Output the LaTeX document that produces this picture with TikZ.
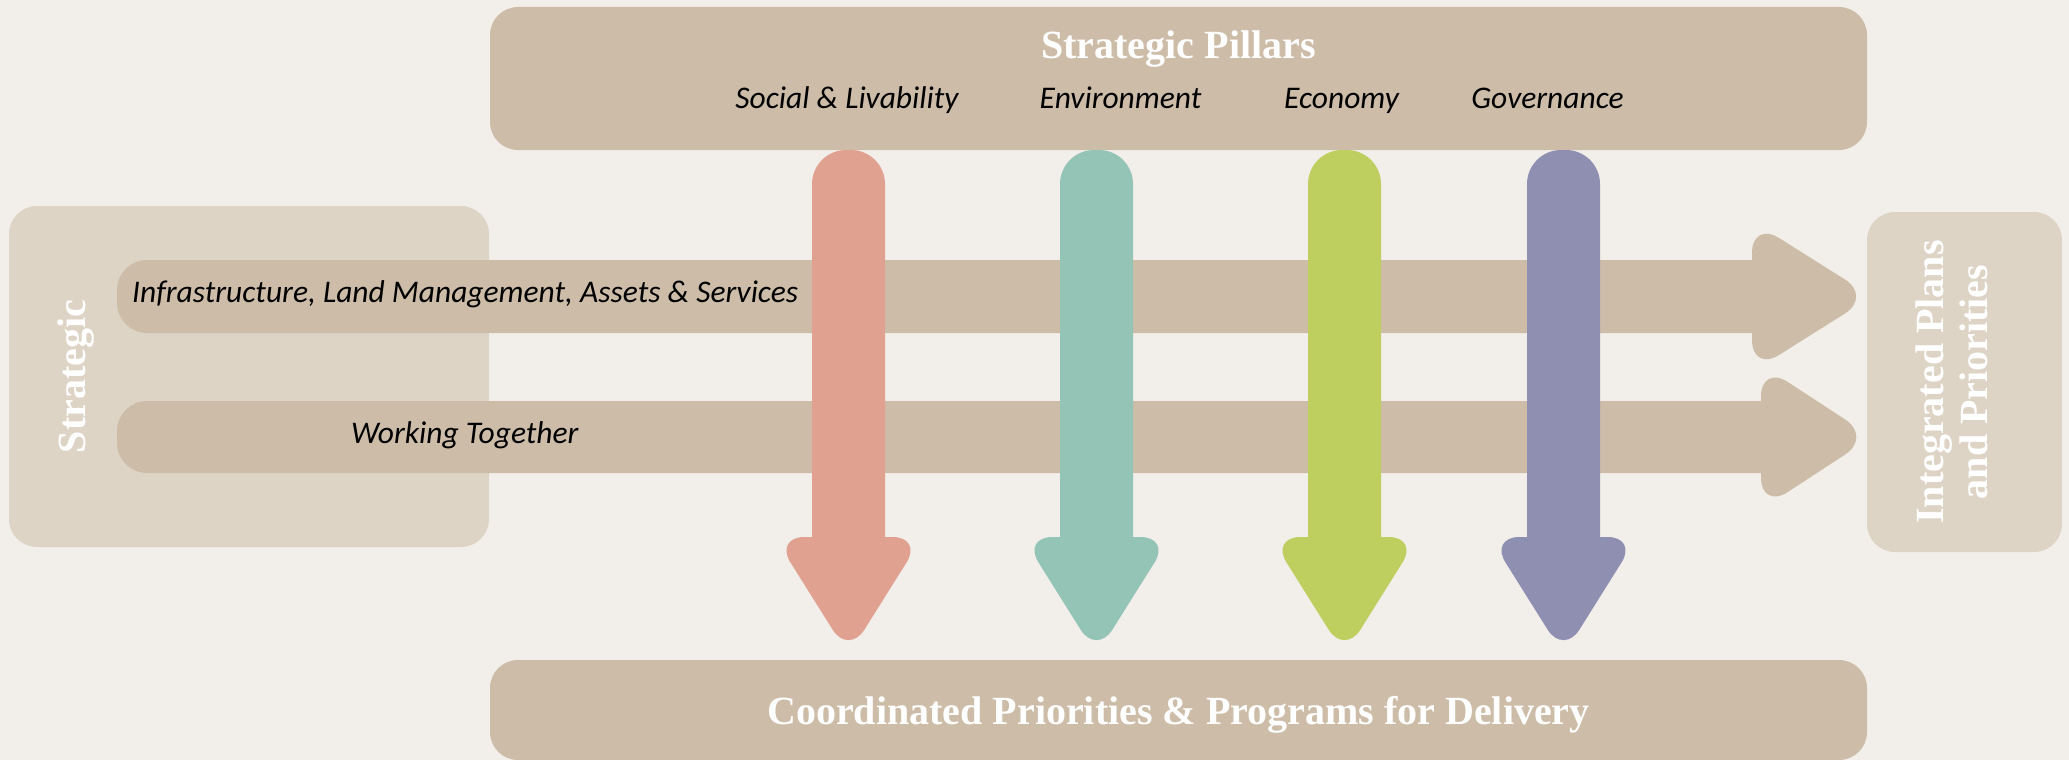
\documentclass[tikz,border=0pt]{standalone}
\usepackage{fontspec}
\setmainfont{Liberation Serif}
\newfontfamily\labelfont{Carlito}
\definecolor{bg}{HTML}{F2EFEA}
\definecolor{tanc}{HTML}{CDBDA8}
\definecolor{pale}{HTML}{DED4C6}
\definecolor{pinkc}{HTML}{E0A190}
\definecolor{tealc}{HTML}{93C4B6}
\definecolor{greenc}{HTML}{BECF60}
\definecolor{purplec}{HTML}{8F8FB2}
\tikzset{
  box/.style={inner sep=0pt, rounded corners=28pt},
  titletext/.style={text=white, font=\fontsize{40}{44}\selectfont\bfseries, inner sep=0pt, anchor=base},
  pillartext/.style={text=black, font=\labelfont\itshape\fontsize{31.5}{36}\selectfont, inner sep=0pt},
}
\newcommand\pillararrow[2]{%
  \fill[#2, rounded corners=34pt] (#1-36.5,560) -- (#1-36.5,150) -- (#1+36.5,150) -- (#1+36.5,560);
  \fill[#2, rounded corners=30pt] (#1-74,537) -- (#1+74,537) -- (#1,655) -- cycle;
}
\begin{document}
\begin{tikzpicture}[x=1pt,y=-1pt]
\useasboundingbox (0,0) rectangle (2069,760);
\fill[bg] (0,0) rectangle (2069,760);
% boxes
\node[box, fill=pale, minimum width=480pt, minimum height=341pt] (stratbox) at (249,376.5) {};
\node[box, fill=pale, minimum width=195pt, minimum height=340pt] (intbox) at (1964.5,382) {};
\node[box, fill=tanc, minimum width=1377pt, minimum height=143pt] (pillarsbox) at (1178.5,78.5) {};
\node[box, fill=tanc, minimum width=1377pt, minimum height=100pt] (delivbox) at (1178.5,710) {};
% horizontal arrows
\fill[tanc, rounded corners=30pt] (1770,260) -- (117,260) -- (117,333) -- (1770,333);
\fill[tanc, rounded corners=32pt] (1752,221) -- (1872,296.5) -- (1752,372) -- cycle;
\fill[tanc, rounded corners=30pt] (1780,401) -- (117,401) -- (117,473) -- (1780,473);
\fill[tanc, rounded corners=32pt] (1761,364.5) -- (1872,437) -- (1761,509.5) -- cycle;
% vertical arrows
\pillararrow{848.5}{pinkc}
\pillararrow{1096.5}{tealc}
\pillararrow{1344.5}{greenc}
\pillararrow{1563.5}{purplec}
% titles
\node[titletext] (pillarstitle) at (1178.5,59) {Strategic Pillars};
\node[titletext] (delivtitle) at (1178.5,724) {Coordinated Priorities \& Programs for Delivery};
\node[titletext, rotate=90] (strattitle) at (85,376.5) {Strategic};
\node[titletext, rotate=90] (inttitle1) at (1943,382) {Integrated Plans};
\node[titletext, rotate=90] (inttitle2) at (1987,382) {and Priorities};
% pillar labels
\node[pillartext, anchor=base] (social) at (847,108) {Social \& Livability};
\node[pillartext, anchor=base] (env) at (1120.5,108) {Environment};
\node[pillartext, anchor=base] (econ) at (1341.5,108) {Economy};
\node[pillartext, anchor=base] (gov) at (1547.5,108) {Governance};
\node[pillartext, anchor=base west] (infra) at (132,302) {Infrastructure, Land Management, Assets \& Services};
\node[pillartext, anchor=base west] (work) at (351,443) {Working Together};
\end{tikzpicture}
\end{document}
